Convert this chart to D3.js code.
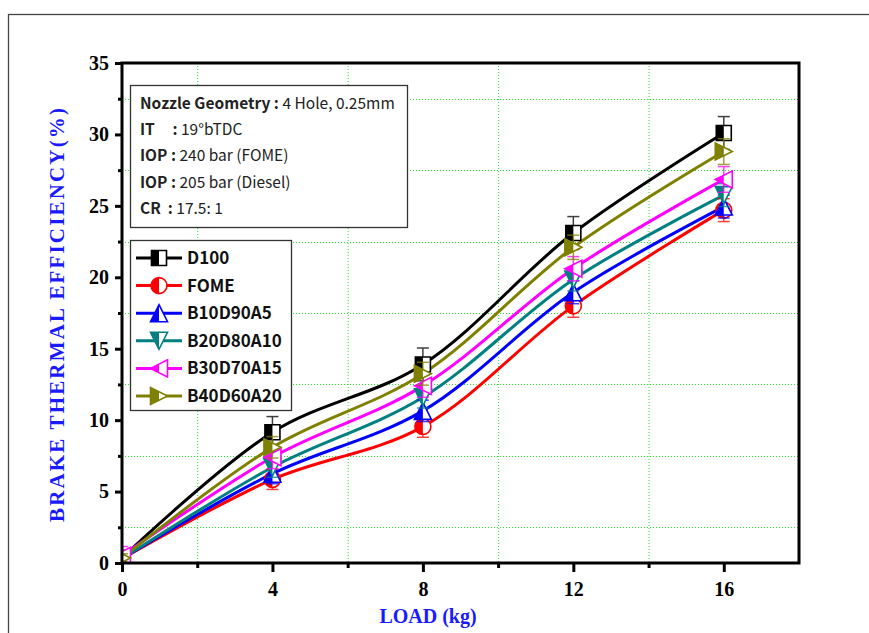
<!DOCTYPE html>
<html><head><meta charset="utf-8">
<script src="https://cdn.jsdelivr.net/npm/d3@7"></script>
<style>body{margin:0;background:#fff;overflow:hidden}</style>
</head><body><svg id="chart" width="869" height="633"></svg>
<script>
// Engine load (kg) and brake thermal efficiency (%) per fuel blend
const loads = [0, 4, 8, 12, 16];
const seriesNames = ["D100", "FOME", "B10D90A5", "B20D80A10", "B30D70A15", "B40D60A20"];
const d100      = [0.35, 9.15, 13.9, 23.1, 30.1];
const fome      = [0.30, 5.85, 9.55, 18.0, 24.7];
const b10d90a5  = [0.30, 6.25, 10.65, 18.95, 24.95];
const b20d80a10 = [0.30, 6.70, 11.6, 19.85, 25.75];
const b30d70a15 = [0.50, 7.40, 12.4, 20.6, 26.85];
const b40d60a20 = [0.35, 8.10, 13.25, 22.1, 28.8];
// error bar half-heights
const errD100 = [0.4, 1.1, 1.15, 1.15, 1.15];
const errFome = [0.3, 0.7, 0.75, 0.8, 0.8];
const errB10  = [0.3, 0.7, 0.75, 0.8, 0.8];
const errB20  = [0.3, 0.7, 0.75, 0.8, 0.8];
const errB30  = [0.65, 0.8, 0.8, 0.85, 0.9];
const errB40  = [0.3, 0.75, 0.8, 0.85, 0.9];
const xMajorTicks = [0, 4, 8, 12, 16];
const xMinorTicks = [2, 6, 10, 14];
const yMajorTicks = [0, 5, 10, 15, 20, 25, 30, 35];
const yMinorTicks = [2.5, 7.5, 12.5, 17.5, 22.5, 27.5, 32.5];
const infoLines = [
  ["Nozzle Geometry : ", "4 Hole, 0.25mm"],
  ["IT     : ", "19°bTDC"],
  ["IOP : ", "240 bar (FOME)"],
  ["IOP : ", "205 bar (Diesel)"],
  ["CR  : ", "17.5: 1"]
];

const colors = ["#000000", "#ff0000", "#0000ff", "#008080", "#ff00ff", "#808000"];
const shapes = ["square", "circle", "up", "down", "left", "right"];
const values = [d100, fome, b10d90a5, b20d80a10, b30d70a15, b40d60a20];
const errs = [errD100, errFome, errB10, errB20, errB30, errB40];

const series = seriesNames.map((name, i) => ({
  name, color: colors[i], shape: shapes[i],
  points: loads.map((x, j) => ({x, y: values[i][j], e: errs[i][j]}))
}));

const svg = d3.select("#chart");
const W = 869, H = 633;
const M = {left: 122, right: 799, top: 63, bottom: 563};

// outer frame
svg.append("rect").attr("x", 8.5).attr("y", 14.5).attr("width", W).attr("height", H)
  .attr("fill", "none").attr("stroke", "#444").attr("stroke-width", 1.3);

const x = d3.scaleLinear().domain([0, 18]).range([M.left, M.right]);
const y = d3.scaleLinear().domain([0, 35]).range([M.bottom, M.top]);

svg.append("defs").append("clipPath").attr("id", "plotClip")
  .append("rect").attr("x", M.left).attr("y", M.top)
  .attr("width", M.right - M.left).attr("height", M.bottom - M.top);

// grid on minor positions
const grid = svg.append("g").attr("stroke", "#1ee61e").attr("stroke-width", 1).attr("stroke-dasharray", "1,2");
grid.selectAll(".gx").data(xMinorTicks).join("line")
  .attr("x1", d => x(d) + 0.5).attr("x2", d => x(d) + 0.5).attr("y1", M.top).attr("y2", M.bottom);
grid.selectAll(".gy").data(yMinorTicks).join("line")
  .attr("x1", M.left).attr("x2", M.right).attr("y1", d => Math.round(y(d)) + 0.5).attr("y2", d => Math.round(y(d)) + 0.5);

// axes
const serif = "'Liberation Serif', 'Times New Roman', serif";
const xAxis = svg.append("g").attr("transform", `translate(0,${M.bottom})`)
  .call(d3.axisBottom(x).tickValues(xMajorTicks).tickSize(9).tickPadding(10).tickFormat(d3.format("d")));
const xMinor = svg.append("g").attr("transform", `translate(0,${M.bottom})`)
  .call(d3.axisBottom(x).tickValues(xMinorTicks).tickSize(5).tickFormat(""));
const yAxis = svg.append("g").attr("transform", `translate(${M.left},0)`)
  .call(d3.axisLeft(y).tickValues(yMajorTicks).tickSize(7).tickPadding(6).tickFormat(d3.format("d")));
const yMinor = svg.append("g").attr("transform", `translate(${M.left},0)`)
  .call(d3.axisLeft(y).tickValues(yMinorTicks).tickSize(4).tickFormat(""));
[xAxis, xMinor, yAxis, yMinor].forEach(g => {
  g.select(".domain").remove();
  g.selectAll(".tick line").attr("stroke", "#000").attr("stroke-width", 3);
  g.selectAll("text").attr("font-family", serif).attr("font-weight", "bold")
    .attr("font-size", 20).attr("fill", "#000");
});

// axis titles
svg.append("text").attr("x", 428).attr("y", 623)
  .attr("text-anchor", "middle").attr("font-family", serif).attr("font-weight", "bold")
  .attr("font-size", 20).attr("fill", "#1a1aff").text("LOAD (kg)");
svg.append("text").attr("transform", `translate(64,${(M.top + M.bottom) / 2 + 2}) rotate(-90)`)
  .attr("text-anchor", "middle").attr("font-family", serif).attr("font-weight", "bold")
  .attr("font-size", 21).attr("fill", "#1a1aff")
  .attr("textLength", 414).attr("lengthAdjust", "spacing")
  .text("BRAKE THERMAL EFFICIENCY(%)");

// marker geometry: full outline and left-half fill
function markerPaths(shape, h) {
  const p = pts => "M" + pts.map(q => q.join(",")).join("L") + "Z";
  switch (shape) {
    case "square": return [p([[-h,-h],[h,-h],[h,h],[-h,h]]), p([[-h,-h],[0,-h],[0,h],[-h,h]])];
    case "circle": return [`M${-h},0A${h},${h} 0 1,1 ${h},0A${h},${h} 0 1,1 ${-h},0Z`, `M0,${-h}A${h},${h} 0 0,0 0,${h}Z`];
    case "up": return [p([[0,-h],[h,h],[-h,h]]), p([[0,-h],[0,h],[-h,h]])];
    case "down": return [p([[0,h],[-h,-h],[h,-h]]), p([[0,h],[-h,-h],[0,-h]])];
    case "left": return [p([[-h,0],[h,-h],[h,h]]), p([[-h,0],[0,-h/2],[0,h/2]])];
    case "right": return [p([[h,0],[-h,-h],[-h,h]]), p([[-h,-h],[0,-h/2],[0,h/2],[-h,h]])];
  }
}
const markerSize = {square: 7.5, circle: 8, up: 8.5, down: 8.5, left: 8.5, right: 8.5};
function drawMarker(g, s, cx, cy) {
  const [full, half] = markerPaths(s.shape, markerSize[s.shape]);
  const m = g.append("g").attr("transform", `translate(${cx},${cy})`);
  m.append("path").attr("d", full).attr("fill", "#fff");
  m.append("path").attr("d", half).attr("fill", s.color);
  m.append("path").attr("d", full).attr("fill", "none").attr("stroke", s.color).attr("stroke-width", 1.6);
}

const line = d3.line().x(d => x(d.x)).y(d => y(d.y)).curve(d3.curveCatmullRom.alpha(0.5));
const plot = svg.append("g").attr("clip-path", "url(#plotClip)");
series.forEach(s => {
  plot.append("path").datum(s.points).attr("d", line)
    .attr("fill", "none").attr("stroke", s.color).attr("stroke-width", 3);
});
series.forEach(s => {
  const g = plot.append("g");
  s.points.forEach(d => {
    const eb = g.append("g").attr("stroke", s.color).attr("stroke-width", 1.5).attr("opacity", 0.75);
    eb.append("line").attr("x1", x(d.x)).attr("x2", x(d.x)).attr("y1", y(d.y - d.e)).attr("y2", y(d.y + d.e));
    [d.y - d.e, d.y + d.e].forEach(v => eb.append("line")
      .attr("x1", x(d.x) - 6).attr("x2", x(d.x) + 6).attr("y1", y(v)).attr("y2", y(v)));
    drawMarker(g, s, x(d.x), y(d.y));
  });
});

// plot frame
svg.append("rect").attr("x", M.left).attr("y", M.top)
  .attr("width", M.right - M.left).attr("height", M.bottom - M.top)
  .attr("fill", "none").attr("stroke", "#000").attr("stroke-width", 3);

// info box
const sans = "'Noto Sans CJK JP', 'Noto Sans', sans-serif";
const info = svg.append("g");
info.append("rect").attr("x", 130.5).attr("y", 85.5).attr("width", 277).attr("height", 142)
  .attr("fill", "#fff").attr("stroke", "#333").attr("stroke-width", 1.3);
infoLines.forEach((ln, i) => {
  const t = info.append("text").attr("x", 140).attr("y", 109 + i * 26.2)
    .attr("font-family", sans).attr("font-size", 15.5).attr("fill", "#222")
    .attr("xml:space", "preserve");
  t.append("tspan").attr("font-weight", "bold").text(ln[0]);
  t.append("tspan").attr("font-weight", "normal").text(ln[1]);
});

// legend
const leg = svg.append("g");
leg.append("rect").attr("x", 130.5).attr("y", 240.5).attr("width", 161).attr("height", 170)
  .attr("fill", "#fff").attr("stroke", "#333").attr("stroke-width", 1.3);
series.forEach((s, i) => {
  const cy = 258 + i * 27.6;
  leg.append("line").attr("x1", 136).attr("x2", 182).attr("y1", cy).attr("y2", cy)
    .attr("stroke", s.color).attr("stroke-width", 3);
  drawMarker(leg, s, 159, cy);
  leg.append("text").attr("x", 187).attr("y", cy + 6)
    .attr("font-family", sans).attr("font-weight", "bold").attr("font-size", 17)
    .attr("fill", "#111").text(s.name);
});
</script>
</body></html>
